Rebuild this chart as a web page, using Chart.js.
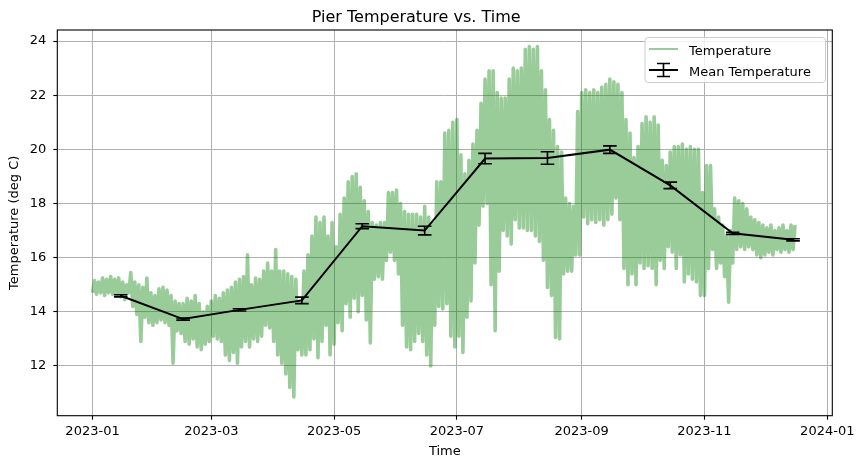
<!DOCTYPE html>
<html><head><meta charset="utf-8">
<script src="https://cdn.jsdelivr.net/npm/chart.js@4.4.0/dist/chart.umd.min.js"></script>
<style>html,body{margin:0;padding:0;background:#fff;}#wrap{width:865px;height:468px;}</style>
</head><body><div id="wrap"><canvas id="c" width="865" height="468"></canvas></div>
<script>
// ---- data (days since 2023-01-01) ----
const tickDays = [0, 59, 120, 181, 243, 304, 365];
const tickLabels = ['2023-01', '2023-03', '2023-05', '2023-07', '2023-09', '2023-11', '2024-01'];
const yTicks = [12, 14, 16, 18, 20, 22, 24];

// Temperature record, read as low/high swing per 2-day block (block starts at day 0, 2, 4, ...)
const tempLow = [
 14.70,14.65,14.70,14.60,14.70,14.65,14.60,14.55,14.45,14.70,
 14.20,13.90,12.90,13.80,13.60,13.50,13.60,13.70,13.60,13.50,
 12.10,13.30,13.20,12.90,12.80,13.00,12.70,12.60,12.80,12.90,
 13.10,13.00,12.90,12.40,12.20,12.50,12.10,12.70,12.90,12.70,
 13.00,12.90,13.10,13.50,13.40,12.90,12.40,12.10,11.70,11.20,
 10.85,12.60,12.40,12.40,12.60,13.00,12.30,12.90,13.50,12.40,
 12.80,13.60,13.30,14.30,13.80,14.50,14.00,14.60,13.70,12.85,
 15.20,15.30,15.20,15.90,16.20,15.90,15.40,13.50,12.70,12.60,
 12.90,13.20,12.90,12.40,12.00,13.50,14.20,14.10,14.30,13.10,
 12.70,13.10,12.50,13.80,14.40,15.80,17.20,17.90,18.00,15.00,
 13.30,15.50,17.00,16.80,16.50,17.40,17.10,17.10,17.00,17.00,
 16.80,16.60,15.90,14.90,14.60,13.05,13.00,15.40,15.50,15.50,
 16.10,16.10,17.50,17.25,17.40,17.30,17.40,17.20,17.40,17.60,
 18.20,17.40,15.60,15.00,15.40,15.00,15.80,15.60,15.70,15.60,
 15.00,15.90,15.60,16.40,16.20,15.60,16.10,15.10,15.40,15.20,
 15.10,14.60,14.60,15.60,16.30,15.60,15.80,15.30,14.35,15.80,
 16.30,16.40,16.30,16.40,16.30,16.10,16.00,16.10,16.20,16.10,
 16.30,16.20,16.30,16.20,16.30
];
const tempHigh = [
 15.15,15.10,15.25,15.20,15.30,15.20,15.25,15.10,15.00,15.45,
 15.10,15.00,14.90,15.25,14.70,14.60,14.85,14.90,14.80,14.60,
 14.40,14.30,14.30,14.50,14.40,14.60,14.30,14.00,14.20,14.40,
 14.60,14.50,14.70,14.80,14.90,15.10,15.20,15.30,16.10,15.00,
 15.25,15.20,15.50,15.80,15.50,16.30,15.50,15.50,15.40,15.30,
 15.20,14.40,15.50,16.10,16.80,17.50,17.30,17.50,16.80,17.30,
 16.40,17.60,18.20,18.80,19.00,19.10,18.60,18.10,17.70,17.30,
 17.20,17.30,17.30,18.40,18.40,18.50,18.00,17.70,17.60,17.60,
 17.60,17.50,17.90,17.50,17.30,18.80,18.80,20.60,20.70,21.00,
 21.10,19.80,19.10,19.60,20.20,20.70,21.70,22.60,22.90,22.90,
 22.10,21.90,21.90,22.60,23.00,22.90,23.00,23.70,23.80,23.70,
 23.80,22.90,22.20,21.10,20.70,20.10,19.90,18.20,18.00,17.90,
 21.40,22.10,22.20,22.10,22.20,22.10,22.30,22.40,22.60,22.50,
 22.40,22.10,21.10,20.60,19.70,20.10,20.95,21.20,21.00,21.20,
 20.90,19.60,19.40,19.90,20.10,20.10,20.20,20.00,20.10,20.00,
 20.00,18.40,19.40,19.40,17.80,17.50,17.20,16.80,17.00,18.20,
 18.10,18.00,17.80,17.50,17.40,17.30,17.20,17.10,17.20,17.00,
 17.10,17.20,17.00,17.20,17.20
];

// Monthly mean temperature (plotted on the 15th) with its error
const meanDays = [14, 45, 73, 104, 134, 165, 195, 226, 257, 287, 318, 348];
const meanValues = [14.59, 13.73, 14.07, 14.42, 17.16, 17.00, 19.66, 19.68, 19.99, 18.67, 16.90, 16.66];
const meanErrors = [0.04, 0.04, 0.04, 0.12, 0.09, 0.16, 0.19, 0.23, 0.14, 0.12, 0.04, 0.04];

// ---- build datasets ----
const tempPoints = [];
tempLow.forEach((lo, i) => {
  tempPoints.push({x: 2 * i, y: lo});
  tempPoints.push({x: 2 * i + 1, y: tempHigh[i]});
});
const meanPoints = meanDays.map((d, i) => ({x: d, y: meanValues[i]}));

const GREEN = 'rgba(0,128,0,0.4)';
const FONT = "'DejaVu Sans', sans-serif";
Chart.defaults.font.family = FONT;
Chart.defaults.color = '#000';

const errorBarPlugin = {
  id: 'errorBars',
  afterDatasetsDraw(chart) {
    const {ctx, scales: {x, y}} = chart;
    ctx.save();
    ctx.strokeStyle = '#000';
    ctx.lineWidth = 1.6;
    meanDays.forEach((d, i) => {
      const px = x.getPixelForValue(d);
      const t = y.getPixelForValue(meanValues[i] + meanErrors[i]);
      const b = y.getPixelForValue(meanValues[i] - meanErrors[i]);
      ctx.beginPath();
      ctx.moveTo(px, t); ctx.lineTo(px, b);
      ctx.moveTo(px - 6.8, t); ctx.lineTo(px + 6.8, t);
      ctx.moveTo(px - 6.8, b); ctx.lineTo(px + 6.8, b);
      ctx.stroke();
    });
    ctx.restore();
  }
};

const frameLegendPlugin = {
  id: 'frameLegend',
  afterDraw(chart) {
    const {ctx, chartArea: a} = chart;
    ctx.save();
    ctx.strokeStyle = '#000';
    ctx.lineWidth = 1.1;
    ctx.strokeRect(a.left, a.top, a.right - a.left, a.bottom - a.top);
    // legend box
    const bx = 645, by = 37.5, bw = 180.5, bh = 45, r = 3;
    ctx.beginPath();
    ctx.moveTo(bx + r, by);
    ctx.arcTo(bx + bw, by, bx + bw, by + bh, r);
    ctx.arcTo(bx + bw, by + bh, bx, by + bh, r);
    ctx.arcTo(bx, by + bh, bx, by, r);
    ctx.arcTo(bx, by, bx + bw, by, r);
    ctx.closePath();
    ctx.fillStyle = 'rgba(255,255,255,0.8)';
    ctx.fill();
    ctx.strokeStyle = '#cccccc';
    ctx.lineWidth = 1;
    ctx.stroke();
    const ds = chart.data.datasets;
    // row 1
    ctx.strokeStyle = 'rgba(0,128,0,0.4)';
    ctx.lineWidth = 2;
    ctx.beginPath(); ctx.moveTo(649, 49); ctx.lineTo(678, 49); ctx.stroke();
    // row 2 with error bar icon
    ctx.strokeStyle = '#000';
    ctx.beginPath(); ctx.moveTo(649, 70); ctx.lineTo(678, 70); ctx.stroke();
    ctx.lineWidth = 1.6;
    ctx.beginPath();
    ctx.moveTo(663.5, 63.5); ctx.lineTo(663.5, 76.5);
    ctx.moveTo(657, 63.5); ctx.lineTo(670, 63.5);
    ctx.moveTo(657, 76.5); ctx.lineTo(670, 76.5);
    ctx.stroke();
    ctx.fillStyle = '#000';
    ctx.font = '13px ' + FONT;
    ctx.textBaseline = 'alphabetic';
    ctx.textAlign = 'left';
    ctx.fillText(ds[0].label, 689, 55);
    ctx.fillText(ds[1].label, 689, 76);
    ctx.restore();
  }
};

new Chart(document.getElementById('c'), {
  type: 'line',
  data: {
    datasets: [
      {label: 'Temperature', data: tempPoints, borderColor: GREEN, borderWidth: 3.6,
       pointRadius: 0, tension: 0, fill: false, order: 2, borderJoinStyle: 'round', borderCapStyle: 'butt'},
      {label: 'Mean Temperature', data: meanPoints, borderColor: '#000', borderWidth: 2,
       pointRadius: 0, tension: 0, fill: false, order: 1}
    ]
  },
  options: {
    responsive: false,
    animation: false,
    devicePixelRatio: 1,
    layout: {padding: {left: 0, right: 32.7, top: 0, bottom: 0}},
    plugins: {
      legend: {display: false},
      tooltip: {enabled: false},
      title: {display: true, text: 'Pier Temperature vs. Time', color: '#000',
              font: {size: 16, weight: 'normal', family: FONT},
              padding: {top: 8, bottom: 2.8}}
    },
    scales: {
      x: {
        type: 'linear', min: -17.5, max: 367.5,
        afterBuildTicks: s => { s.ticks = tickDays.map(v => ({value: v})); },
        afterFit: s => { s.height = 52.3; },
        ticks: {callback: (v, i) => tickLabels[i], color: '#000', font: {size: 13},
                padding: 4, maxRotation: 0, autoSkip: false},
        grid: {color: '#b0b0b0', lineWidth: 1, tickColor: '#000', tickLength: 4, tickWidth: 1.1},
        border: {display: false},
        title: {display: true, text: 'Time', color: '#000', font: {size: 13}, padding: {top: 0, bottom: 9}}
      },
      y: {
        type: 'linear', min: 10.16, max: 24.41,
        afterBuildTicks: s => { s.ticks = yTicks.map(v => ({value: v})); },
        afterFit: s => { s.width = 57.3; },
        ticks: {color: '#000', font: {size: 13}, padding: 7},
        grid: {color: '#b0b0b0', lineWidth: 1, tickColor: '#000', tickLength: 4, tickWidth: 1.1},
        border: {display: false},
        title: {display: true, text: 'Temperature (deg C)', color: '#000', font: {size: 13}, padding: {top: 7, bottom: 0}}
      }
    }
  },
  plugins: [errorBarPlugin, frameLegendPlugin]
});
</script>
</body></html>
